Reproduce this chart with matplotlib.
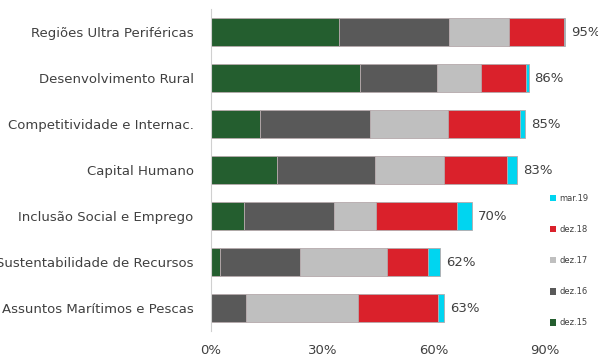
import numpy as np
import matplotlib.pyplot as plt
from matplotlib.patches import Patch

categories = ['Regiões Ultra Periféricas', 'Desenvolvimento Rural',
              'Competitividade e Internac.', 'Capital Humano',
              'Inclusão Social e Emprego', 'Sustentabilidade de Recursos',
              'Assuntos Marítimos e Pescas']
series = ['dez.15', 'dez.16', 'dez.17', 'dez.18', 'mar.19']
dez15 = [34.4, 40.2, 13.2, 17.7, 8.9, 2.4, 0.0]
dez16 = [29.6, 20.6, 29.7, 26.4, 24.3, 21.5, 9.4]
dez17 = [16.2, 11.8, 20.9, 18.6, 11.3, 23.5, 30.1]
dez18 = [14.8, 12.1, 19.3, 17.0, 21.7, 11.0, 21.6]
mar19 = [0.3, 0.8, 1.4, 2.8, 4.0, 3.2, 1.6]
end_labels = ['95%', '86%', '85%', '83%', '70%', '62%', '63%']
colors = ['#245e2f', '#595959', '#bfbfbf', '#da212b', '#00d5f0']

fig = plt.figure(figsize=(5.98, 3.58), dpi=100)
ax = fig.add_axes([0.3528, 0.0754, 0.6212, 0.8994])

y = np.arange(len(categories))
left = np.zeros(len(categories))
handles = []
for name, vals, c in zip(series, [dez15, dez16, dez17, dez18, mar19], colors):
    vals = np.array(vals)
    ax.barh(y, vals, left=left, height=0.61, color=c,
            edgecolor='#b5a9ab', linewidth=0.6)
    left += vals
    handles.append(Patch(facecolor=c, label=name))

for yi, tot, lab in zip(y, left, end_labels):
    ax.text(tot + 1.6, yi, lab, va='center', ha='left', fontsize=9.5, color='#404040')

ax.set_yticks(y)
ax.set_yticklabels(categories, fontsize=9.5, color='#404040')
ax.set_ylim(len(categories) - 0.5, -0.5)
ax.set_xlim(0, 100)
ax.set_xticks([0, 30, 60, 90])
ax.set_xticklabels(['0%', '30%', '60%', '90%'], fontsize=9.5, color='#404040')
ax.tick_params(length=0)
ax.tick_params(axis='y', pad=12.5)
ax.tick_params(axis='x', pad=9)
for s in ['top', 'right', 'bottom']:
    ax.spines[s].set_visible(False)
ax.spines['left'].set_color('#d0d0d0')

fig.legend(handles=handles[::-1], loc='upper left', bbox_to_anchor=(0.919, 0.458),
           frameon=False, fontsize=6, handlelength=0.8, handleheight=0.8,
           handletextpad=0.35, labelspacing=2.65, labelcolor='#404040',
           borderaxespad=0, borderpad=0)

fig.savefig('out.png', dpi=100)
